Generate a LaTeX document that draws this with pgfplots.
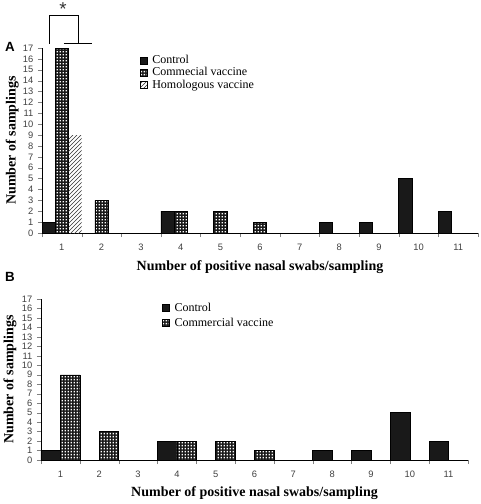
\documentclass[border=0pt]{standalone}
\usepackage{fontspec}
\setmainfont{Liberation Serif}
\newfontfamily\arialfont{Liberation Sans}
\usepackage{pgfplots}
\pgfplotsset{compat=1.18}
\usetikzlibrary{patterns}
\pgfdeclarepatternformonly{whitedots}{\pgfpointorigin}{\pgfqpoint{2.1pt}{2.1pt}}{\pgfqpoint{2.1pt}{2.1pt}}{%
  \pgfpathrectangle{\pgfqpoint{0.5pt}{0.5pt}}{\pgfqpoint{1.1pt}{1.1pt}}\pgfusepath{fill}}

\pgfplotsset{
  commonaxis/.style={
    scale only axis,
    anchor=south west,
    xmin=0.5, xmax=11.5, ymin=0, ymax=17,
    axis x line*=bottom, axis y line*=left,
    x axis line style={-}, y axis line style={-},
    tick align=outside,
    xtick={1,...,11},
    minor xtick={0.5,1.5,...,11.5},
    major x tick style={draw=none},
    minor tick length=3pt, major tick length=3pt,
    ytick={0,1,...,17},
    /pgf/number format/assume math mode=true,
    ticklabel style={font=\arialfont\fontsize{7}{8}\selectfont, text=black!75},
    xticklabel style={yshift=-2pt},
    label style={font=\bfseries\fontsize{10.5}{12}\selectfont},
    xlabel style={at={(axis description cs:0.5,0)}, anchor=center},
    legend style={draw=none, fill=none, anchor=north west, font=\fontsize{9}{10}\selectfont,
      inner sep=0pt, nodes={inner sep=1pt}, column sep=2.5pt},
    legend cell align=left,
    clip=false,
  },
  myleg/.style={legend image code/.code={\draw[##1] (0pt,-2.6pt) rectangle (5.4pt,2.6pt);}},
  ctrl/.style={fill=black!90, draw=black},
  comm/.style={fill=black!90, draw=black, postaction={pattern=whitedots, pattern color=white}},
  homo/.style={draw=none, pattern=north east lines, pattern color=black!80},
}

\begin{document}
\begin{tikzpicture}
\useasboundingbox (0,0) rectangle (360pt,-378pt);

% Panel A
\begin{axis}[commonaxis,
  at={(31.5pt,-174.75pt)}, width=327pt, height=138.75pt,
  ybar, bar width=0.333, myleg,
  xlabel={Number of positive nasal swabs/sampling},
  ylabel={Number of samplings},
  xlabel style={yshift=-25.5pt},
  ylabel style={at={(axis description cs:-0.0685,0.5)}, anchor=center},
  legend style={at={(0.224,0.97)}, row sep=-0.5pt},
]
\addplot[ctrl, bar shift=-0.333] coordinates {(1,1) (4,2) (8,1) (9,1) (10,5) (11,2)};
\addlegendentry{Control}
\addplot[comm, bar shift=0] coordinates {(1,17) (2,3) (4,2) (5,2) (6,1)};
\addlegendentry{Commecial vaccine}
\addplot[homo, bar shift=0.333] coordinates {(1,9)};
\addlegendentry{Homologous vaccine}
\draw[black, line width=0.7pt] (axis cs:0.70,17.4) -- (axis cs:0.70,20.03) -- (axis cs:1.41,20.03) -- (axis cs:1.41,17.4);
\draw[black, line width=0.7pt] (axis cs:1.055,17.4) -- (axis cs:1.76,17.4);
\node[font=\arialfont\fontsize{14}{14}\selectfont, anchor=north, inner sep=0pt, text=black!80] at (axis cs:1.03,21.15) {*};
\end{axis}

% Panel B
\begin{axis}[commonaxis,
  at={(30.75pt,-345pt)}, width=320.25pt, height=120.75pt,
  ybar, bar width=0.5, myleg,
  xlabel={Number of positive nasal swabs/sampling},
  ylabel={Number of samplings},
  xlabel style={yshift=-24.75pt},
  ylabel style={at={(axis description cs:-0.0726,0.5)}, anchor=center},
  legend style={at={(0.283,0.985)}, row sep=1.5pt},
]
\addplot[ctrl, bar shift=-0.25] coordinates {(1,1) (4,2) (8,1) (9,1) (10,5) (11,2)};
\addlegendentry{Control}
\addplot[comm, bar shift=0.25] coordinates {(1,9) (2,3) (4,2) (5,2) (6,1)};
\addlegendentry{Commercial vaccine}
\end{axis}

\node[font=\arialfont\bfseries\fontsize{10}{10}\selectfont] at (7.5pt,-35.25pt) {A};
\node[font=\arialfont\bfseries\fontsize{10}{10}\selectfont] at (7.5pt,-207.75pt) {B};
\end{tikzpicture}
\end{document}
